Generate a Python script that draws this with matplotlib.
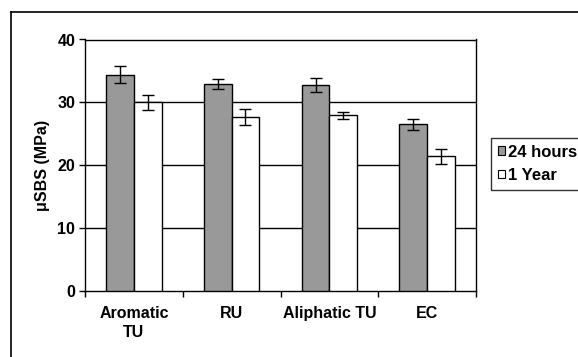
import matplotlib
matplotlib.use("Agg")
import matplotlib.pyplot as plt
import numpy as np
from matplotlib.patches import Patch
from matplotlib.lines import Line2D

categories = ["Aromatic\nTU", "RU", "Aliphatic TU", "EC"]
series_names = ["24 hours", "1 Year"]
vals_24h = [34.4, 32.9, 32.7, 26.5]
err_24h = [1.35, 0.85, 1.1, 0.85]
vals_1y = [30.0, 27.7, 27.9, 21.4]
err_1y = [1.15, 1.3, 0.6, 1.15]
yticks = [0, 10, 20, 30, 40]

plt.rcParams['font.family'] = ['Liberation Sans', 'DejaVu Sans']
plt.rcParams['font.weight'] = 'bold'

W, H = 578, 357
fig = plt.figure(figsize=(W/100, H/100), dpi=100)
ax = fig.add_axes([85/W, 1-290.7/H, (476-85)/W, (290.7-39.5)/H])

x = np.arange(len(categories))
bw = 0.283
ax.bar(x - bw/2, vals_24h, bw, color='#999999', edgecolor='black', linewidth=1.0, zorder=3,
       yerr=err_24h, error_kw=dict(ecolor='black', elinewidth=1.0, capsize=4, capthick=1.0, zorder=4))
ax.bar(x + bw/2, vals_1y, bw, color='white', edgecolor='black', linewidth=1.0, zorder=3,
       yerr=err_1y, error_kw=dict(ecolor='black', elinewidth=1.0, capsize=4, capthick=1.0, zorder=4))

ax.set_xlim(-0.5, len(categories) - 0.5)
ax.set_ylim(0, 40)
ax.set_yticks(yticks)
ax.set_yticklabels([str(t) for t in yticks], fontsize=11.5, fontweight='bold')
ax.set_xticks(np.arange(-0.5, len(categories), 1.0))
ax.set_xticklabels([])
ax.set_xticks(x, minor=True)
ax.set_xticklabels(categories, minor=True, fontsize=11.5, fontweight='bold')
ax.tick_params(axis='x', which='minor', length=0, pad=11)
ax.tick_params(axis='x', which='major', direction='out', length=4, width=1)
ax.tick_params(axis='y', direction='out', length=4, width=1, pad=3)
for t in ax.get_xticklabels(minor=True):
    t.set_linespacing(1.3)

for yv in [10, 20, 30]:
    ax.axhline(yv, color='black', linewidth=1.0, zorder=1)
for s in ax.spines.values():
    s.set_color('black')
    s.set_linewidth(1.0)

ax.set_ylabel("\u03bcSBS (MPa)", fontsize=11.5, fontweight='bold', labelpad=5)

handles = [Patch(facecolor='#999999', edgecolor='black', linewidth=0.8),
           Patch(facecolor='white', edgecolor='black', linewidth=0.8)]
leg = fig.legend(handles, series_names, loc='upper left', bbox_to_anchor=(491/W, 1-138/H),
                 frameon=True, fancybox=False, edgecolor='black', fontsize=12,
                 handlelength=0.42, handleheight=0.42, handletextpad=0.2,
                 borderpad=0.4, labelspacing=0.5, borderaxespad=0)
leg.get_frame().set_linewidth(1.0)
for t in leg.get_texts():
    t.set_fontweight('bold')

fig.add_artist(Line2D([11/W, 11/W], [0, 1-12/H], color='black', linewidth=1.2, transform=fig.transFigure))
fig.add_artist(Line2D([11/W, 1], [1-12/H, 1-12/H], color='black', linewidth=1.2, transform=fig.transFigure))

fig.savefig("out.png", dpi=100)
